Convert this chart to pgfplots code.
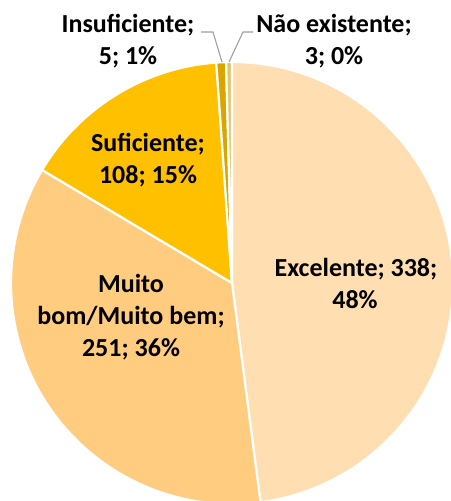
\documentclass[border=0pt]{standalone}
\usepackage{pgfplots}
\usepackage{pgfplotstable}
\pgfplotsset{compat=1.18}
\usepackage{fontspec}
\setmainfont{Carlito}
\definecolor{cExc}{HTML}{FFDEB1}
\definecolor{cMb}{HTML}{FFCC80}
\definecolor{cSuf}{HTML}{FFC000}
\definecolor{cIns}{HTML}{D9A600}
\definecolor{cNe}{HTML}{E2C66A}
\pgfplotstableread{
value color
338 cExc
251 cMb
108 cSuf
5 cIns
3 cNe
}\piedata
\begin{document}
\begin{tikzpicture}
\begin{axis}[width=451bp,height=501bp,scale only axis,
  xmin=0,xmax=451,ymin=0,ymax=501,hide axis,clip=true]
\pgfplotsextra{
  \gdef\acc{90}
  \pgfplotstablegetrowsof{\piedata}
  \pgfmathtruncatemacro\nrows{\pgfplotsretval-1}
  \foreach \i in {0,...,\nrows}{
    \pgfplotstablegetelem{\i}{value}\of\piedata
    \let\v\pgfplotsretval
    \pgfplotstablegetelem{\i}{color}\of\piedata
    \edef\c{\pgfplotsretval}
    \pgfmathsetmacro{\a}{\acc}
    \pgfmathsetmacro{\b}{\acc-\v/705*360}
    \fill[fill=\c, draw=white, line width=2.2bp, line join=round]
      (axis cs:232,218) -- ++(\a:221bp)
      arc[start angle=\a, end angle=\b, radius=221bp] -- cycle;
    \xdef\acc{\b}
  }
  \draw[gray!75, line width=1.1bp] (axis cs:201,469) -- (axis cs:213,469) -- (axis cs:222,439);
  \draw[gray!75, line width=1.1bp] (axis cs:253,469) -- (axis cs:243,469) -- (axis cs:229,439);
  \begin{scope}[every node/.style={anchor=base, inner sep=0pt,
      font=\fontsize{26bp}{32bp}\selectfont\bfseries, text=black}]
    \node at (axis cs:128,468) {Insuficiente;};
    \node at (axis cs:128,436) {5; 1\%};
    \node at (axis cs:334,468) {Não existente;};
    \node at (axis cs:334,436) {3; 0\%};
    \node at (axis cs:148,349) {Suficiente;};
    \node at (axis cs:148,317) {108; 15\%};
    \node at (axis cs:356,224) {Excelente; 338;};
    \node at (axis cs:355,192) {48\%};
    \node at (axis cs:131,208) {Muito};
    \node at (axis cs:131,176) {bom/Muito bem;};
    \node at (axis cs:131,144) {251; 36\%};
  \end{scope}
}
\end{axis}
\pgfresetboundingbox
\path[use as bounding box] (0,0) rectangle (451bp,501bp);
\end{tikzpicture}
\end{document}
